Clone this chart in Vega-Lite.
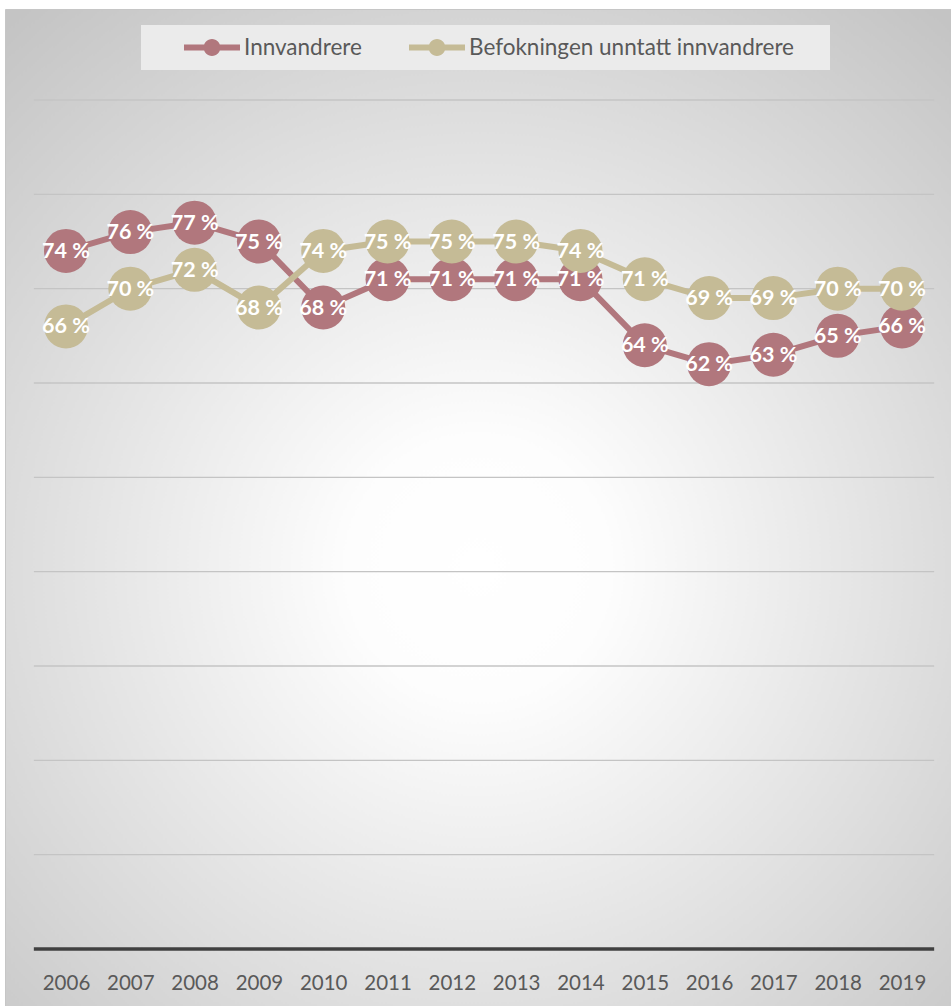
{
  "$schema": "https://vega.github.io/schema/vega-lite/v6.json",
  "width": 946,
  "height": 997,
  "autosize": "none",
  "padding": {"left": 5, "top": 9, "right": 0, "bottom": 0},
  "background": "#ffffff",
  "config": {
    "font": "Lato",
    "view": {
      "fill": {"gradient": "radial", "x1": 0.5, "y1": 0.56, "r1": 0, "x2": 0.5, "y2": 0.56, "r2": 0.72,
        "stops": [{"offset": 0, "color": "#ffffff"}, {"offset": 0.18, "color": "#fdfdfd"}, {"offset": 1, "color": "#c4c4c4"}]},
      "stroke": "#c6c6c6",
      "strokeWidth": 1
    }
  },
  "datasets": {
    "series": [
      {"year": 2006, "series": "Innvandrere", "value": 74},
      {"year": 2007, "series": "Innvandrere", "value": 76},
      {"year": 2008, "series": "Innvandrere", "value": 77},
      {"year": 2009, "series": "Innvandrere", "value": 75},
      {"year": 2010, "series": "Innvandrere", "value": 68},
      {"year": 2011, "series": "Innvandrere", "value": 71},
      {"year": 2012, "series": "Innvandrere", "value": 71},
      {"year": 2013, "series": "Innvandrere", "value": 71},
      {"year": 2014, "series": "Innvandrere", "value": 71},
      {"year": 2015, "series": "Innvandrere", "value": 64},
      {"year": 2016, "series": "Innvandrere", "value": 62},
      {"year": 2017, "series": "Innvandrere", "value": 63},
      {"year": 2018, "series": "Innvandrere", "value": 65},
      {"year": 2019, "series": "Innvandrere", "value": 66},
      {"year": 2006, "series": "Befokningen unntatt innvandrere", "value": 66},
      {"year": 2007, "series": "Befokningen unntatt innvandrere", "value": 70},
      {"year": 2008, "series": "Befokningen unntatt innvandrere", "value": 72},
      {"year": 2009, "series": "Befokningen unntatt innvandrere", "value": 68},
      {"year": 2010, "series": "Befokningen unntatt innvandrere", "value": 74},
      {"year": 2011, "series": "Befokningen unntatt innvandrere", "value": 75},
      {"year": 2012, "series": "Befokningen unntatt innvandrere", "value": 75},
      {"year": 2013, "series": "Befokningen unntatt innvandrere", "value": 75},
      {"year": 2014, "series": "Befokningen unntatt innvandrere", "value": 74},
      {"year": 2015, "series": "Befokningen unntatt innvandrere", "value": 71},
      {"year": 2016, "series": "Befokningen unntatt innvandrere", "value": 69},
      {"year": 2017, "series": "Befokningen unntatt innvandrere", "value": 69},
      {"year": 2018, "series": "Befokningen unntatt innvandrere", "value": 70},
      {"year": 2019, "series": "Befokningen unntatt innvandrere", "value": 70}
    ],
    "grid": [{"level": 10}, {"level": 20}, {"level": 30}, {"level": 40}, {"level": 50}, {"level": 60}, {"level": 70}, {"level": 80}, {"level": 90}]
  },
  "layer": [
    {
      "data": {"name": "grid"},
      "mark": {"type": "rule", "stroke": "#c4c4c4", "strokeWidth": 1.3},
      "encoding": {
        "y": {"field": "level", "type": "quantitative", "scale": {"domain": [-6.042, 99.647], "nice": false, "zero": false}, "axis": null},
        "x": {"datum": 2005.5, "type": "quantitative", "scale": {"domain": [2005.0515, 2019.7619], "nice": false, "zero": false},
          "axis": {"values": [2006, 2007, 2008, 2009, 2010, 2011, 2012, 2013, 2014, 2015, 2016, 2017, 2018, 2019], "format": "d", "ticks": false, "domain": false, "grid": false, "labelFont": "Lato", "labelFontSize": 20.5, "labelColor": "#595959", "labelPadding": 24, "offset": -57, "title": null, "labelFlush": false, "labelOverlap": false}},
        "x2": {"datum": 2019.5}
      }
    },
    {
      "data": {"values": [{}]},
      "mark": {"type": "rule", "stroke": "#404040", "strokeWidth": 3.5},
      "encoding": {
        "y": {"datum": 0, "type": "quantitative"},
        "x": {"datum": 2005.5, "type": "quantitative"},
        "x2": {"datum": 2019.5}
      }
    },
    {
      "data": {"name": "series"},
      "transform": [{"filter": "datum.series === 'Innvandrere'"}],
      "mark": {"type": "line", "strokeWidth": 6},
      "encoding": {
        "x": {"field": "year", "type": "quantitative"},
        "y": {"field": "value", "type": "quantitative"},
        "color": {"field": "series", "type": "nominal",
          "scale": {"domain": ["Innvandrere", "Befokningen unntatt innvandrere"], "range": ["#b1777d", "#c5bb96"]},
          "legend": {"title": "\u00a0", "titleOrient": "right", "titlePadding": 25, "orient": "none", "legendX": 136, "legendY": 16, "direction": "horizontal",
            "symbolType": "M-1,-0.107H1V0.107H-1Z M-0.3,0A0.3,0.3 0 1 1 0.3,0A0.3,0.3 0 1 1 -0.3,0Z",
            "symbolSize": 3136, "symbolStrokeWidth": 0, "symbolOffset": 32, "labelOffset": 4, "columnPadding": 15, "padding": 11, "clipHeight": 23,
            "fillColor": "#ebebeb", "labelFont": "Lato", "labelFontSize": 22.5, "labelColor": "#595959", "labelLimit": 500,
            "encode": {"symbols": {"update": {"fill": {"scale": "color", "field": "value"}, "fillOpacity": {"value": 1}, "stroke": {"value": "transparent"}}}}}
        }
      }
    },
    {
      "data": {"name": "series"},
      "transform": [{"filter": "datum.series === 'Innvandrere'"}],
      "mark": {"type": "point", "filled": true, "size": 1936, "opacity": 1, "strokeWidth": 0},
      "encoding": {
        "x": {"field": "year", "type": "quantitative"},
        "y": {"field": "value", "type": "quantitative"},
        "color": {"field": "series", "type": "nominal"}
      }
    },
    {
      "data": {"name": "series"},
      "transform": [{"filter": "datum.series !== 'Innvandrere'"}],
      "mark": {"type": "line", "strokeWidth": 6},
      "encoding": {
        "x": {"field": "year", "type": "quantitative"},
        "y": {"field": "value", "type": "quantitative"},
        "color": {"field": "series", "type": "nominal"}
      }
    },
    {
      "data": {"name": "series"},
      "transform": [{"filter": "datum.series !== 'Innvandrere'"}],
      "mark": {"type": "point", "filled": true, "size": 1936, "opacity": 1, "strokeWidth": 0},
      "encoding": {
        "x": {"field": "year", "type": "quantitative"},
        "y": {"field": "value", "type": "quantitative"},
        "color": {"field": "series", "type": "nominal"}
      }
    },
    {
      "data": {"name": "series"},
      "transform": [{"calculate": "format(datum.value, 'd') + ' %'", "as": "label"}],
      "mark": {"type": "text", "color": "#ffffff", "fontWeight": "bold", "fontSize": 21.5, "font": "Lato", "align": "center", "baseline": "middle", "dy": 1},
      "encoding": {
        "x": {"field": "year", "type": "quantitative"},
        "y": {"field": "value", "type": "quantitative"},
        "text": {"field": "label"}
      }
    }
  ]
}
